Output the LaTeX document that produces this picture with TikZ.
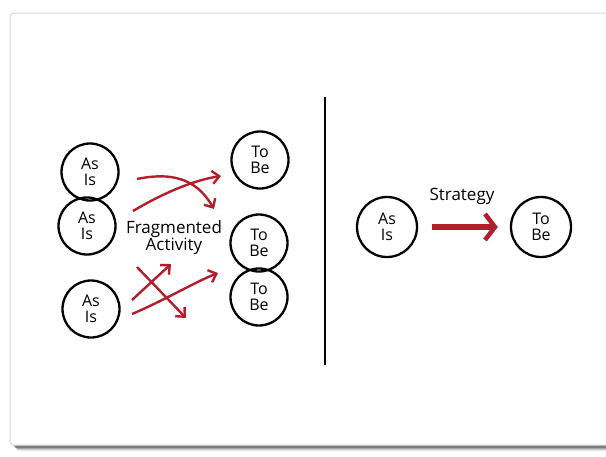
\documentclass[tikz,border=0pt]{standalone}
\usepackage{fontspec}
\setmainfont{Open Sans}
\usetikzlibrary{arrows.meta,positioning,calc}
\definecolor{arrowred}{RGB}{178,30,44}
\definecolor{cardline}{RGB}{215,215,215}

\tikzset{
  state/.style={circle, draw=black, line width=2.3pt, minimum size=57pt, inner sep=0pt,
    align=center, font=\fontsize{16}{16}\selectfont},
  redarrow/.style={arrowred, line width=2.4pt, -{Straight Barb[length=7pt,width=13pt]}},
  bigarrow/.style={arrowred, line width=6.5pt, -{Straight Barb[length=10pt,width=26pt,line width=4.5pt]}},
}

\begin{document}
\begin{tikzpicture}[x=1pt, y=-1pt]
  \useasboundingbox (0,0) rectangle (606,456);
  % card with shadow
  \foreach \d/\o in {6/0.08, 5/0.12, 4/0.18, 3/0.25}
    \fill[black, opacity=\o, rounded corners=4pt] (10+\d,13+\d) rectangle (640,445+\d);
  \draw[cardline, fill=white, line width=1pt, rounded corners=4pt] (10,13) rectangle (640,445);

  % left half: circles
  \foreach \name/\x/\y/\txt in {as1/90/172/{As\\Is}, as2/87/226/{As\\Is}, as3/91/309/{As\\Is},
                                tb1/260/160/{To\\Be}, tb2/259/243/{To\\Be}, tb3/259/297/{To\\Be}}
    \node[state] (\name) at (\x,\y) {\txt};

  \node[font=\fontsize{17}{17}\selectfont, align=center] (frag) at (174,238) {Fragmented\\Activity};

  % free arrow ends
  \coordinate (a1s) at (137,179);  \coordinate (a1e) at (214,209);
  \coordinate (a2s) at (133,211);  \coordinate (a2e) at (221,176);
  \coordinate (a3s) at (137,267);  \coordinate (a3e) at (186,318);
  \coordinate (a4s) at (132,300);  \coordinate (a4e) at (171,264);
  \coordinate (a5s) at (132,314);  \coordinate (a5e) at (218,273);

  \draw[redarrow] (a1s) .. controls (180,170) and (200,185) .. (a1e);
  \draw[redarrow] (a2s) .. controls (165,192) and (195,180) .. (a2e);
  \draw[redarrow] (a3s) -- (a3e);
  \draw[redarrow] (a4s) -- (a4e);
  \draw[redarrow] (a5s) .. controls (165,300) and (195,282) .. (a5e);

  % divider
  \coordinate (top) at (325,97);
  \coordinate (bottom) at (325,365);
  \draw[line width=2.3pt] (top) -- (bottom);

  % right half
  \node[state, minimum size=60pt] (as) at (387,227) {As\\Is};
  \node[state, minimum size=60pt] (tb) at (541,227) {To\\Be};
  \draw[bigarrow, shorten <=14pt, shorten >=12pt] (as) -- (tb);
  \node[font=\fontsize{17}{17}\selectfont] (strat) at (462,196) {Strategy};
\end{tikzpicture}
\end{document}
